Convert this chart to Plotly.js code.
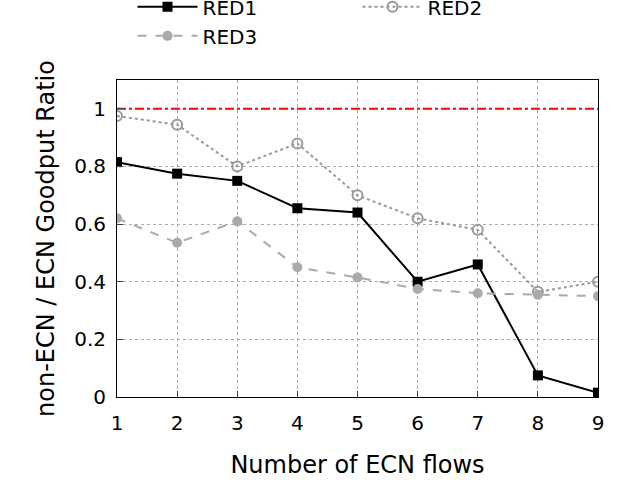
<!DOCTYPE html>
<html>
<head>
<script src="https://cdn.plot.ly/plotly-3.0.1.min.js"></script>
<style>body{margin:0}</style>
</head>
<body>
<div id="chart" style="width:640px;height:480px"></div>
<script>
let flows = [1, 2, 3, 4, 5, 6, 7, 8, 9];
let red1 = [0.815, 0.775, 0.75, 0.655, 0.64, 0.40, 0.46, 0.075, 0.015];
let red2 = [0.975, 0.945, 0.80, 0.88, 0.70, 0.62, 0.58, 0.365, 0.40];
let red3 = [0.62, 0.535, 0.61, 0.45, 0.415, 0.375, 0.36, 0.355, 0.35];
let reference = [1, 1, 1, 1, 1, 1, 1, 1, 1];

let trace1 = {
  x: flows, y: red1, name: 'RED1', mode: 'lines+markers',
  line: {color: 'black', width: 2},
  marker: {symbol: 'square', size: 10, color: 'black'}
};
let trace2 = {
  x: flows, y: red2, name: 'RED2', mode: 'lines+markers',
  line: {color: '#999999', width: 2, dash: 'dot'},
  marker: {symbol: 'circle-open', size: 10, color: '#999999', line: {width: 2}}
};
let trace3 = {
  x: flows, y: red3, name: 'RED3', mode: 'lines+markers',
  line: {color: '#aaaaaa', width: 2, dash: 'dash'},
  marker: {symbol: 'circle', size: 10, color: '#aaaaaa'}
};
let trace4 = {
  x: flows, y: reference, mode: 'lines', showlegend: false,
  line: {color: 'red', width: 2, dash: 'dashdot'}
};

let layout = {
  width: 640, height: 480,
  margin: {l: 117, r: 42, t: 80, b: 83, autoexpand: false},
  font: {family: 'DejaVu Sans', size: 20, color: 'black'},
  paper_bgcolor: 'white', plot_bgcolor: 'white',
  showlegend: true,
  legend: {orientation: 'h', x: 0.5, xanchor: 'center', y: 1.185, yanchor: 'middle',
    font: {size: 20}, itemwidth: 60, entrywidth: 150},
  xaxis: {
    range: [1, 9], dtick: 1, showline: true, mirror: true, linecolor: 'black', linewidth: 1,
    showgrid: true, gridcolor: '#aaa', griddash: 'dot', gridwidth: 1, zeroline: false,
    ticks: 'inside', ticklen: 6, ticklabelstandoff: 8,
    title: {text: 'Number of ECN flows', standoff: 22}
  },
  yaxis: {
    range: [0, 1.1], dtick: 0.2, showline: true, mirror: true, linecolor: 'black', linewidth: 1,
    showgrid: true, gridcolor: '#aaa', griddash: 'dot', gridwidth: 1, zeroline: false,
    ticks: 'inside', ticklen: 6, ticklabelstandoff: 6,
    title: {text: 'non-ECN / ECN Goodput Ratio', standoff: 12}
  }
};

Plotly.newPlot('chart', [trace4, trace1, trace2, trace3], layout, {displayModeBar: false});
</script>
</body>
</html>
